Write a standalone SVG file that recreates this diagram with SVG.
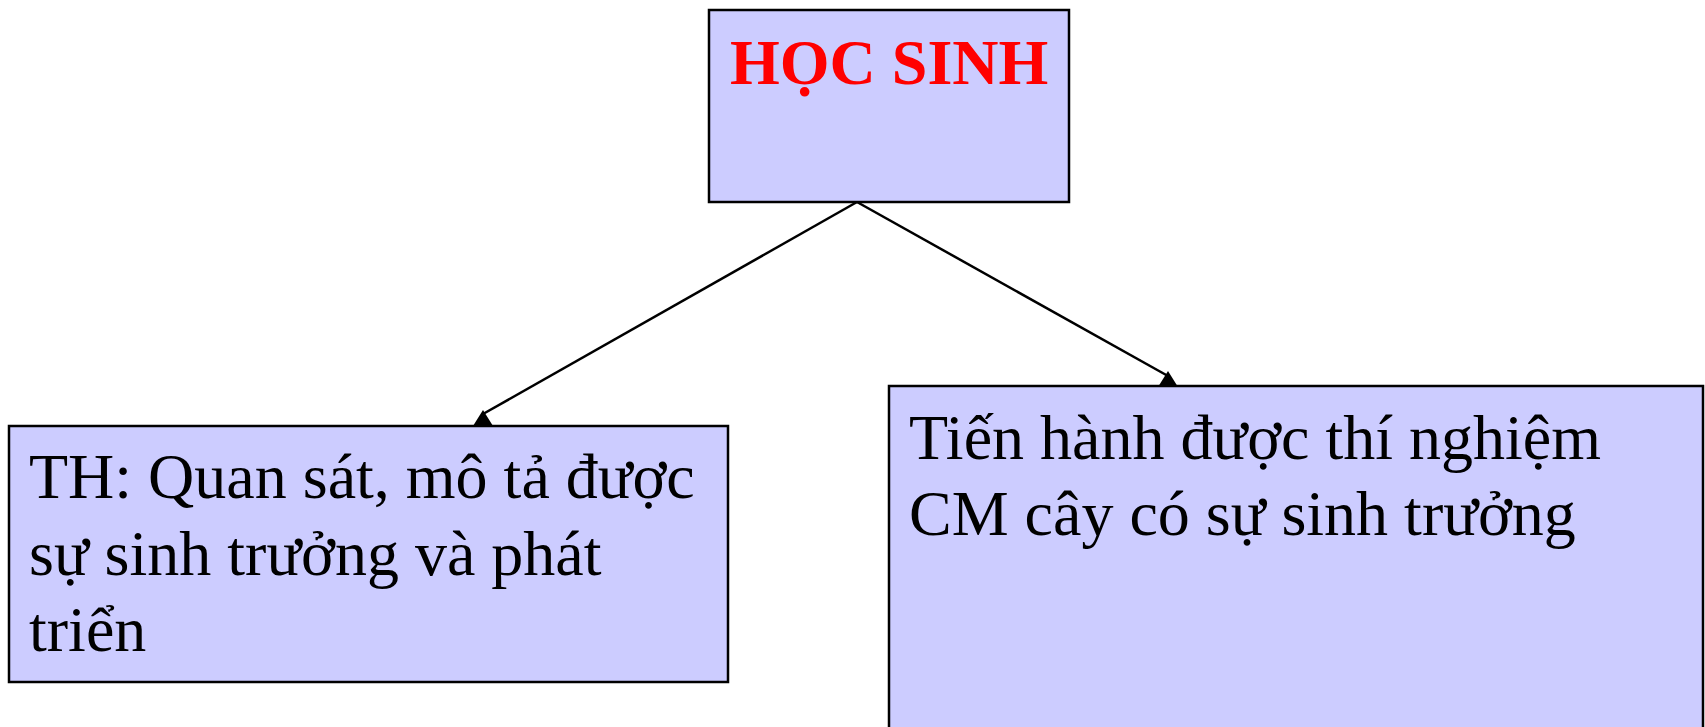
<svg xmlns="http://www.w3.org/2000/svg" width="1705" height="727" viewBox="0 0 1705 727">
<style>
.box{fill:#CCCCFF;stroke:#000;stroke-width:2.5}
.t{font-family:"Liberation Serif","Times New Roman",serif;font-size:64px;fill:#000}
.title{font-family:"Liberation Serif","Times New Roman",serif;font-size:64px;font-weight:bold;fill:#FF0000}
.conn{stroke:#000;stroke-width:2.5;fill:none}
.head{fill:#000}
</style>
<rect width="1705" height="727" fill="#fff"/>
<g id="connectors">
<line class="conn" x1="857" y1="202" x2="483" y2="414"/>
<polygon class="head" points="483,410 473,426 493,426"/>
<line class="conn" x1="857" y1="202" x2="1168" y2="376"/>
<polygon class="head" points="1168,371 1158,387 1178,387"/>
</g>
<g id="node-hocsinh">
<rect class="box" x="709" y="10" width="360" height="192"/>
<text class="title" x="730" y="84">HỌC SINH</text>
</g>
<g id="node-th">
<rect class="box" x="9" y="426" width="719" height="256"/>
<text class="t" x="29" y="498">TH: Quan sát, mô tả được</text>
<text class="t" x="29" y="575">sự sinh trưởng và phát</text>
<text class="t" x="29" y="651">triển</text>
</g>
<g id="node-tienhanh">
<rect class="box" x="889" y="386" width="814" height="360"/>
<text class="t" x="909" y="459">Tiến hành được thí nghiệm</text>
<text class="t" x="909" y="535">CM cây có sự sinh trưởng</text>
</g>
</svg>
